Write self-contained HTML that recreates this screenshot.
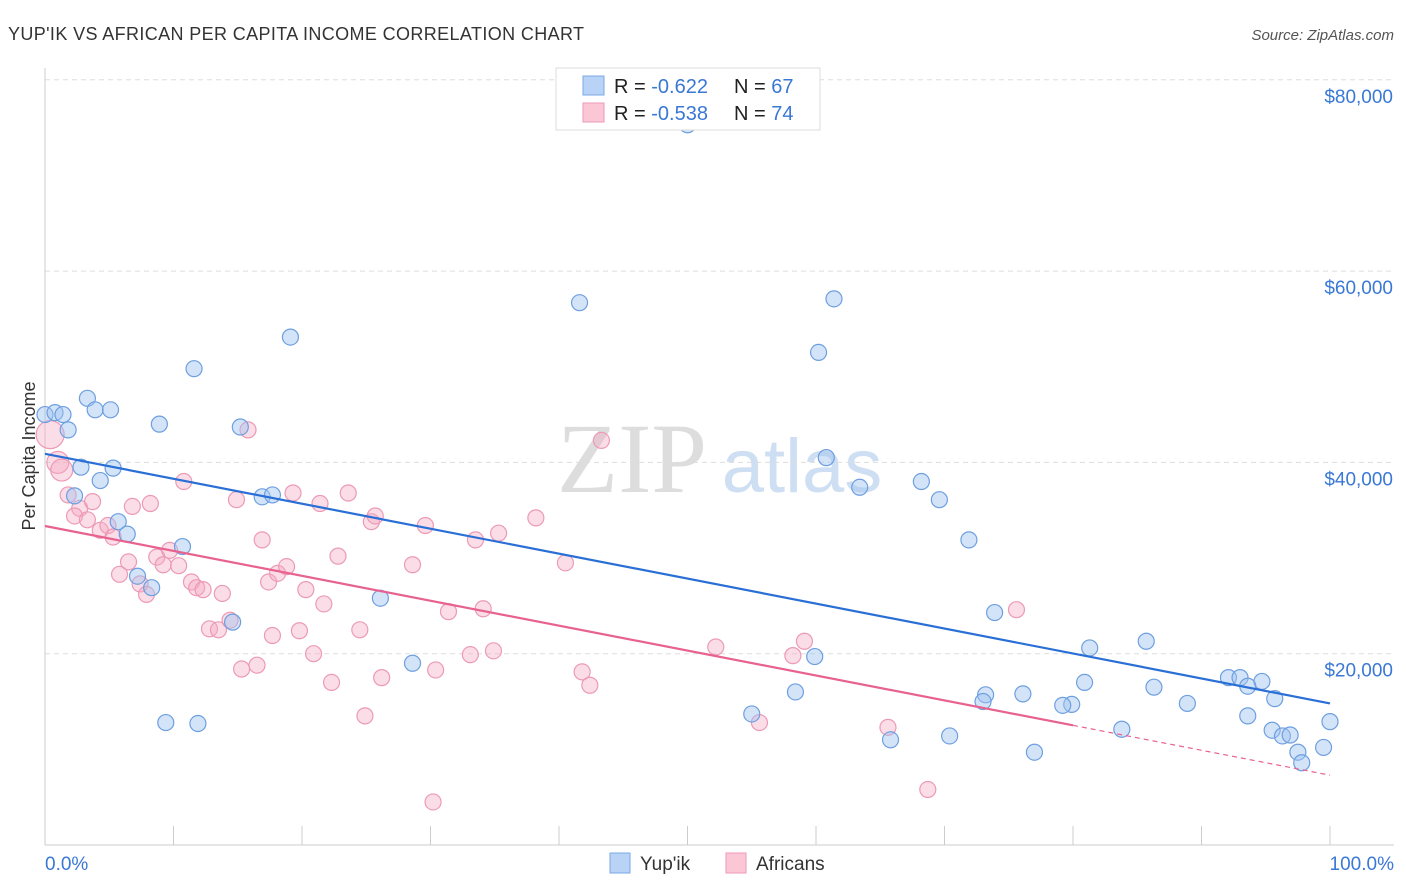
<!DOCTYPE html>
<html><head><meta charset="utf-8"><style>
body{margin:0;background:#fff;font-family:"Liberation Sans",sans-serif}
svg{display:block}
</style></head><body>
<svg id="c" width="1406" height="892" xmlns="http://www.w3.org/2000/svg">
<text x="8" y="40" font-size="18" fill="#333" textLength="576">YUP'IK VS AFRICAN PER CAPITA INCOME CORRELATION CHART</text>
<text x="1394" y="40" font-size="15" fill="#555" font-style="italic" text-anchor="end">Source: ZipAtlas.com</text>
<text x="35" y="456" font-size="18" fill="#333" text-anchor="middle" transform="rotate(-90 35 456)">Per Capita Income</text>
<text x="632" y="492" font-size="100" fill="#ddd" font-family="Liberation Serif,serif" text-anchor="middle">ZIP</text>
<text x="802" y="492" font-size="76" fill="#cfdff3" text-anchor="middle">atlas</text>
<g id="grid"></g><g id="axes"></g><g id="pts"></g><g id="lines"></g>
<g>
<rect x="556" y="68" width="264" height="62" fill="#fff" stroke="#ddd"/>
<rect x="583" y="76" width="21" height="19" fill="#b8d3f5" stroke="#7aa9e6"/>
<rect x="583" y="103" width="21" height="19" fill="#fbc7d6" stroke="#ee9ab5"/>
<text x="614" y="93" font-size="20" fill="#222">R = <tspan fill="#3a78d6">-0.622</tspan><tspan x="734">N = </tspan><tspan fill="#3a78d6">67</tspan></text>
<text x="614" y="120" font-size="20" fill="#222">R = <tspan fill="#3a78d6">-0.538</tspan><tspan x="734">N = </tspan><tspan fill="#3a78d6">74</tspan></text>
</g>
<g>
<rect x="610" y="853" width="20" height="20" fill="#b8d3f5" stroke="#7aa9e6"/>
<text x="640" y="870" font-size="19" fill="#333">Yup'ik</text>
<rect x="726" y="853" width="20" height="20" fill="#fbc7d6" stroke="#ee9ab5"/>
<text x="756" y="870" font-size="19" fill="#333">Africans</text>
</g>
</svg>
<script>
const yTicks=[20000,40000,60000,80000];
const yTickLabels=["$20,000","$40,000","$60,000","$80,000"];
const blueX=[0,0.78,1.4,1.8,3.3,3.9,5.1,2.8,4.3,5.3,2.3,5.7,6.4,8.9,11.6,15.2,16.9,17.7,19.1,10.7,7.2,8.3,14.6,9.4,11.9,26.1,28.6,41.6,50.0,61.4,60.2,60.8,63.4,68.2,69.6,71.9,73.9,81.3,85.7,80.9,86.3,88.9,76.1,73.2,73.0,79.9,79.2,83.8,58.4,55.0,59.9,65.8,70.4,77.0,92.1,93.0,94.7,93.6,95.7,93.6,95.5,96.3,96.9,97.5,97.8,99.5,100];
const blueY=[45.0,45.2,45.0,43.4,46.7,45.5,45.5,39.5,38.1,39.4,36.5,33.8,32.5,44.0,49.8,43.7,36.4,36.6,53.1,31.2,28.1,26.9,23.3,12.8,12.7,25.8,19.0,56.7,75.3,57.1,51.5,40.5,37.4,38.0,36.1,31.9,24.3,20.6,21.3,17.0,16.5,14.8,15.8,15.7,15.0,14.7,14.6,12.1,16.0,13.7,19.7,11.0,11.4,9.7,17.5,17.5,17.1,16.6,15.3,13.5,12.0,11.4,11.5,9.7,8.6,10.2,12.9];
const pinkX=[0.4,1.0,1.3,1.8,2.7,2.3,3.7,3.3,4.3,4.9,5.3,5.8,6.5,6.8,7.4,7.9,8.2,8.7,9.2,9.7,10.4,10.8,11.4,11.8,12.3,12.8,13.5,13.8,14.4,14.9,15.8,15.3,16.5,16.9,17.4,18.1,18.8,19.3,17.7,19.8,20.3,20.9,21.4,21.7,22.3,22.8,23.6,24.5,24.9,25.4,25.7,26.2,28.6,29.6,30.2,30.4,31.4,33.1,33.5,34.1,34.9,35.3,38.2,40.5,41.8,42.4,43.3,52.2,55.6,58.2,59.1,65.6,68.7,75.6];
const pinkY=[42.9,40.0,39.2,36.6,35.2,34.4,35.9,34.0,32.9,33.4,32.2,28.3,29.6,35.4,27.3,26.2,35.7,30.1,29.3,30.8,29.2,38.0,27.5,26.9,26.7,22.6,22.5,26.3,23.5,36.1,43.4,18.4,18.8,31.9,27.5,28.4,29.1,36.8,21.9,22.4,26.7,20.0,35.7,25.2,17.0,30.2,36.8,22.5,13.5,33.8,34.4,17.5,29.3,33.4,4.5,18.3,24.4,19.9,31.9,24.7,20.3,32.6,34.2,29.5,18.1,16.7,42.3,20.7,12.8,19.8,21.3,12.3,5.8,24.6];
const blueTrend=[40.9,14.8];
const pinkTrend=[33.35,7.3];
const pinkSolidEnd=80;
const X0=45,X1=1330,Y0=845,PPK=191.3/20;
const sx=v=>X0+(X1-X0)*v/100, sy=k=>Y0-k*PPK;
const NS="http://www.w3.org/2000/svg";
function mk(t,a,p){const e=document.createElementNS(NS,t);for(const k in a)e.setAttribute(k,a[k]);p.appendChild(e);return e;}
const grid=document.getElementById('grid'),axes=document.getElementById('axes'),pts=document.getElementById('pts'),lines=document.getElementById('lines');
yTicks.forEach((t,i)=>{const y=sy(t/1000);
const g=mk('line',{x1:45,x2:1394,y1:y,y2:y,stroke:'#ddd','stroke-dasharray':'5,4'},grid);


const l=mk('text',{x:1393,y:y+23,'font-size':19,fill:'#3a78d6','text-anchor':'end'},axes);l.textContent=yTickLabels[i];

});
mk('line',{x1:45,x2:45,y1:68,y2:845,stroke:'#ccc'},axes);
mk('line',{x1:45,x2:1394,y1:845,y2:845,stroke:'#ccc'},axes);
for(let i=0;i<=10;i++){const x=sx(i*10);mk('line',{x1:x,x2:x,y1:826,y2:845,stroke:'#ccc'},axes);}
const xl=mk('text',{x:45,y:870,'font-size':19,fill:'#3a78d6'},axes);xl.textContent='0.0%';


const xr=mk('text',{x:1394,y:870,'font-size':19,fill:'#3a78d6','text-anchor':'end'},axes);xr.textContent='100.0%';


pinkX.forEach((v,i)=>{const c=mk('circle',{cx:sx(v),cy:sy(pinkY[i]),r:i<3?(i==0?14:11):8,fill:'rgba(245,170,196,0.4)',stroke:'#ec9ab6','stroke-width':1.2},pts);

});
blueX.forEach((v,i)=>{const c=mk('circle',{cx:sx(v),cy:sy(blueY[i]),r:8,fill:'rgba(160,196,240,0.45)',stroke:'#6d9fe0','stroke-width':1.2},pts);

});
const bl=mk('line',{x1:sx(0),y1:sy(blueTrend[0]),x2:sx(100),y2:sy(blueTrend[1]),stroke:'#2a6fd6','stroke-width':2.2},lines);


const pm=pinkTrend[0]+(pinkTrend[1]-pinkTrend[0])*pinkSolidEnd/100;
const pl=mk('line',{x1:sx(0),y1:sy(pinkTrend[0]),x2:sx(pinkSolidEnd),y2:sy(pm),stroke:'#e8628f','stroke-width':2.2},lines);


const pd=mk('line',{x1:sx(pinkSolidEnd),y1:sy(pm),x2:sx(100),y2:sy(pinkTrend[1]),stroke:'#e8628f','stroke-width':1.2,'stroke-dasharray':'5,4'},lines);


</script>
</body></html>
